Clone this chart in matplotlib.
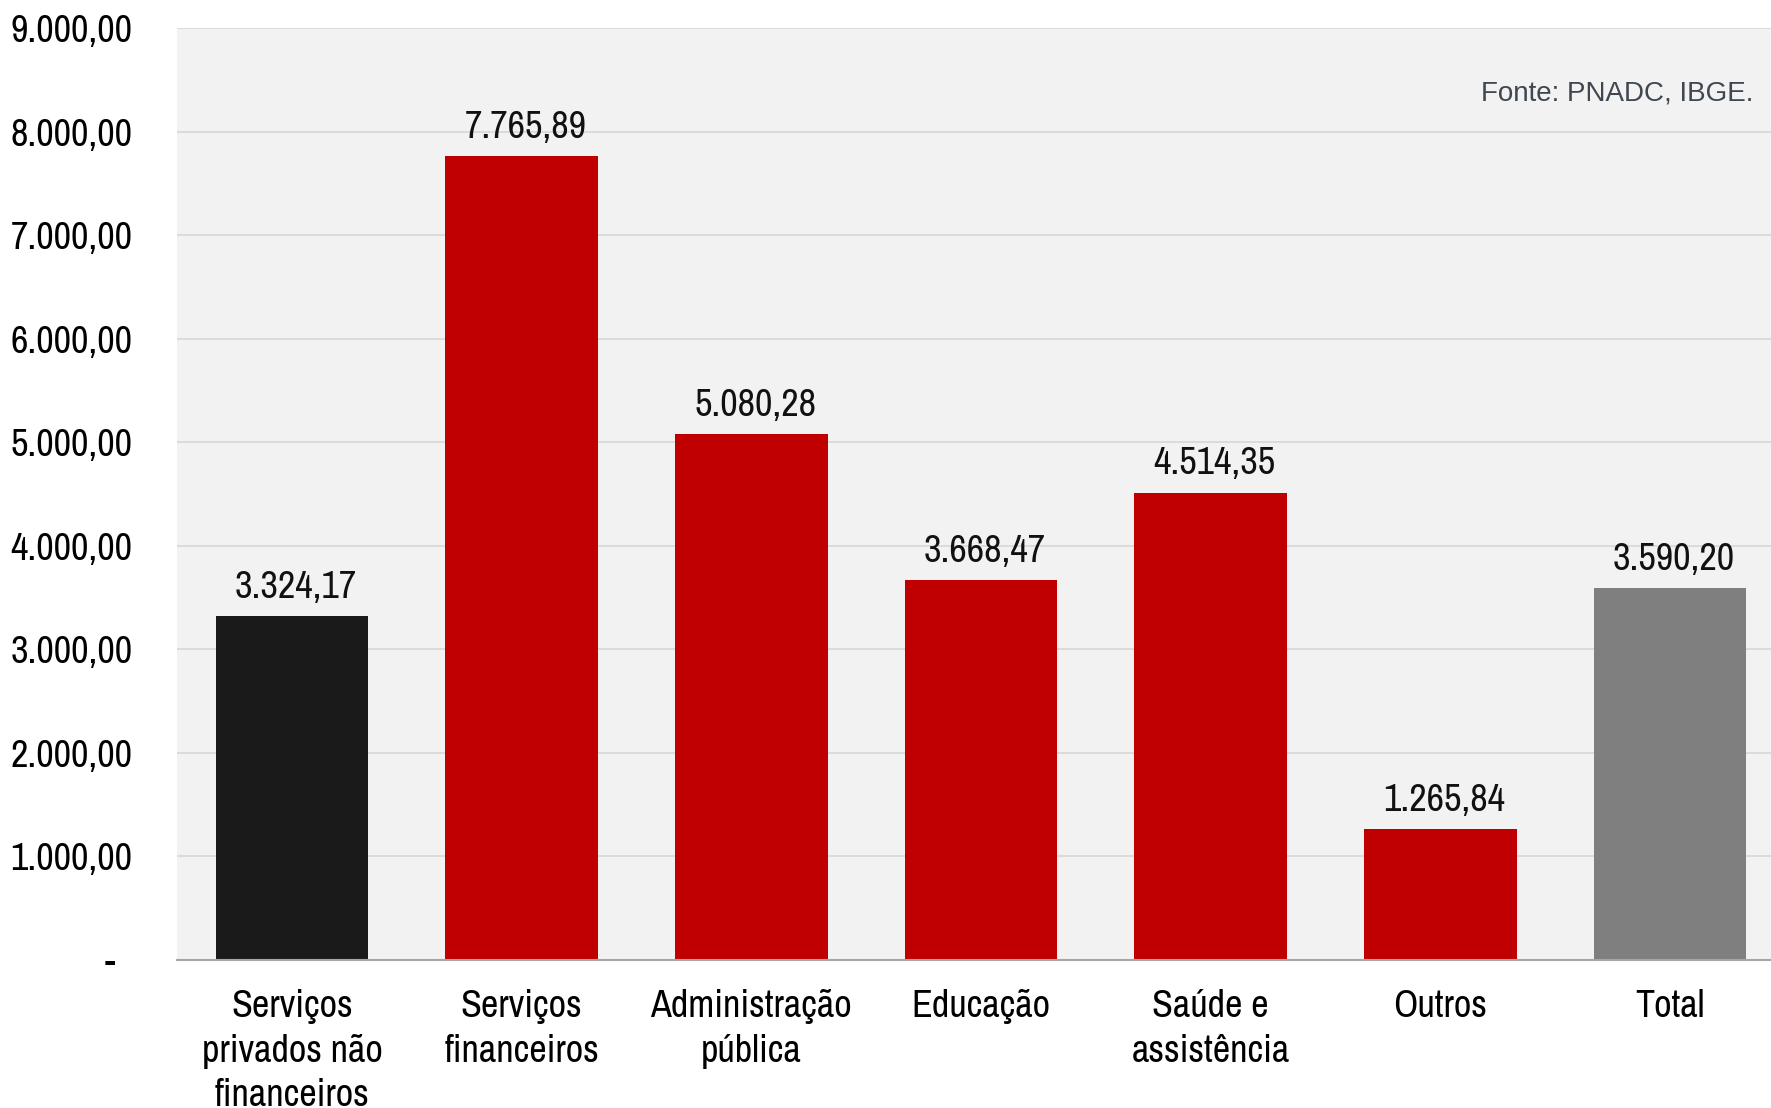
import matplotlib
matplotlib.use("Agg")
import matplotlib.pyplot as plt
from matplotlib import font_manager as fm

names = {f.name for f in fm.fontManager.ttflist}
narrow = next((n for n in ["Liberation Sans Narrow", "Arial Narrow", "Archivo Narrow",
                           "Roboto Condensed", "PT Sans Narrow", "Open Sans Condensed"]
               if n in names), "Liberation Sans")
regular = next((n for n in ["Liberation Sans", "Arimo", "DejaVu Sans"] if n in names), "DejaVu Sans")

categories = ["Serviços\nprivados não\nfinanceiros", "Serviços\nfinanceiros",
              "Administração\npública", "Educação", "Saúde e\nassistência",
              "Outros", "Total"]
values = [3324.17, 7765.89, 5080.28, 3668.47, 4514.35, 1265.84, 3590.20]
colors = ["#1A1A1A", "#C00000", "#C00000", "#C00000", "#C00000", "#C00000", "#7F7F7F"]
yticks = [0, 1000, 2000, 3000, 4000, 5000, 6000, 7000, 8000, 9000]
source = "Fonte: PNADC, IBGE."


def br(v):
    s = f"{v:,.2f}"
    return s.replace(",", "X").replace(".", ",").replace("X", ".")


FS = 27.5
fig = plt.figure(figsize=(17.71, 11.08), dpi=100)
ax = fig.add_axes([0.1, 0.1336, 0.9, 0.8411])
ax.set_facecolor("#F2F2F2")
x = list(range(len(categories)))
ax.bar(x, values, width=0.665, color=colors, zorder=3)
ax.set_xlim(-0.5, 6.44)
ax.set_ylim(0, 9000)
ax.set_yticks(yticks)
ax.set_yticklabels(["-  "] + [br(v) for v in yticks[1:]], fontsize=FS, family=narrow)
ax.set_xticks(x)
ax.set_xticklabels(categories, fontsize=FS, family=narrow, linespacing=1.34, va="top")
ax.tick_params(axis="both", length=0)
ax.tick_params(axis="y", pad=32)
ax.tick_params(axis="x", pad=21)
ax.yaxis.grid(True, color="#D9D9D9", linewidth=1.3, zorder=0)
for s in ["top", "right", "left"]:
    ax.spines[s].set_visible(False)
ax.spines["bottom"].set_color("#A6A6A6")
ax.spines["bottom"].set_linewidth(1.5)
ax.spines["bottom"].set_zorder(4)

for xi, v in zip(x, values):
    ax.annotate(br(v), (xi, v), xytext=(3, 8), textcoords="offset points",
                ha="center", va="bottom", fontsize=FS, family=narrow, color="#111111")

fig.text(1753 / 1771, 1 - 94 / 1108, source, ha="right", va="center",
         fontsize=20, family=regular, color="#3F4750")

fig.savefig("out.png", dpi=100)
